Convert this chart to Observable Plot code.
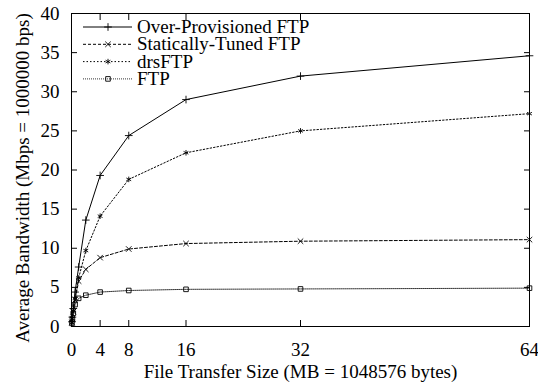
<!DOCTYPE html>
<html><head><meta charset="utf-8">
<script src="https://cdn.jsdelivr.net/npm/d3@7"></script>
<script src="https://cdn.jsdelivr.net/npm/@observablehq/plot@0.6"></script>
<style>body{margin:0;background:#fff}#c{position:relative;width:538px;height:383px}</style>
</head><body><div id="c"></div>
<script>
const sizes = [0.0625, 0.125, 0.25, 0.5, 1, 2, 4, 8, 16, 32, 64];
const overProvisioned = [0.6, 1.2, 2.3, 4.4, 7.6, 13.6, 19.3, 24.4, 29.0, 32.0, 34.6];
const staticallyTuned = [0.5, 1.0, 1.9, 3.4, 5.8, 7.3, 8.8, 9.9, 10.6, 10.9, 11.1];
const drsFTP = [0.5, 1.0, 2.0, 3.6, 6.2, 9.7, 14.1, 18.8, 22.2, 25.0, 27.2];
const ftp = [0.4, 0.9, 1.7, 2.8, 3.6, 4.0, 4.4, 4.6, 4.75, 4.8, 4.9];
const seriesNames = ["Over-Provisioned FTP", "Statically-Tuned FTP", "drsFTP", "FTP"];
const xTicks = [0, 4, 8, 16, 32, 64];
const yTicks = [0, 5, 10, 15, 20, 25, 30, 35, 40];

const styles = {
  "Over-Provisioned FTP": {dash: null, sym: "plus", w: 1},
  "Statically-Tuned FTP": {dash: "3,2", sym: "times", w: 1},
  "drsFTP": {dash: "1.5,2", sym: "asterisk", w: 1},
  "FTP": {dash: "1,1", sym: "square", w: 0.8}
};
const valuesBySeries = [overProvisioned, staticallyTuned, drsFTP, ftp];
const data = [];
seriesNames.forEach((s, i) => sizes.forEach((x, j) => data.push({series: s, x, y: valuesBySeries[i][j]})));

const font = "Liberation Serif";
const fs = 19;
const lineMarks = seriesNames.map(s => Plot.line(data.filter(d => d.series === s), {
  x: "x", y: "y", stroke: "#000", strokeWidth: styles[s].w, strokeDasharray: styles[s].dash
}));
const dotMarks = seriesNames.map(s => Plot.dot(data.filter(d => d.series === s), {
  x: "x", y: "y", symbol: () => styles[s].sym, stroke: "#000", fill: "none", r: 2.6, strokeWidth: 0.9
}));

const chart = Plot.plot({
  width: 538, height: 383,
  marginLeft: 71, marginRight: 9, marginTop: 13, marginBottom: 57,
  style: {fontSize: fs + "px", fontFamily: font, color: "#000", background: "#fff"},
  x: {domain: [0, 64]},
  y: {domain: [0, 40]},
  symbol: {type: "identity"},
  marks: [
    Plot.frame({stroke: "#000", strokeWidth: 1}),
    Plot.axisX({ticks: xTicks, tickSize: -6, tickPadding: 22, label: "File Transfer Size (MB = 1048576 bytes)", labelAnchor: "center", labelArrow: "none", labelOffset: 51, fontSize: fs}),
    Plot.axisX({anchor: "top", ticks: xTicks, tickSize: -6, tickFormat: () => "", label: null}),
    Plot.axisY({ticks: yTicks, tickSize: -6, tickPadding: 18, label: "Average Bandwidth (Mbps = 1000000 bps)", labelAnchor: "center", labelArrow: "none", labelOffset: 56, fontSize: fs}),
    Plot.axisY({anchor: "right", ticks: yTicks, tickSize: -6, tickFormat: () => "", label: null}),
    ...lineMarks,
    ...dotMarks
  ]
});
document.getElementById("c").appendChild(chart);

const svg = d3.select(chart);
svg.attr("font-family", font);
svg.selectAll('g[aria-label="y-axis label"]').attr("transform", function () {
  return (this.getAttribute("transform") || "") + " translate(0,8)";
});

const lg = svg.append("g").attr("font-size", fs).attr("text-anchor", "start").attr("font-family", font);
const symbolMap = {plus: d3.symbolPlus, times: d3.symbolTimes, asterisk: d3.symbolAsterisk, square: d3.symbolSquare};
seriesNames.forEach((s, i) => {
  const y = 27 + i * 17.3;
  const st = styles[s];
  lg.append("line").attr("x1", 83).attr("x2", 132).attr("y1", y).attr("y2", y)
    .attr("stroke", "#000").attr("stroke-width", st.w).attr("stroke-dasharray", st.dash);
  lg.append("path").attr("d", d3.symbol(symbolMap[st.sym], 2.6 * 2.6 * Math.PI)())
    .attr("transform", `translate(108,${y})`).attr("fill", "none").attr("stroke", "#000").attr("stroke-width", 0.9);
  lg.append("text").attr("x", 137).attr("y", y).attr("dy", "0.32em").text(s);
});
svg.selectAll("text").attr("font-family", font);
</script></body></html>
